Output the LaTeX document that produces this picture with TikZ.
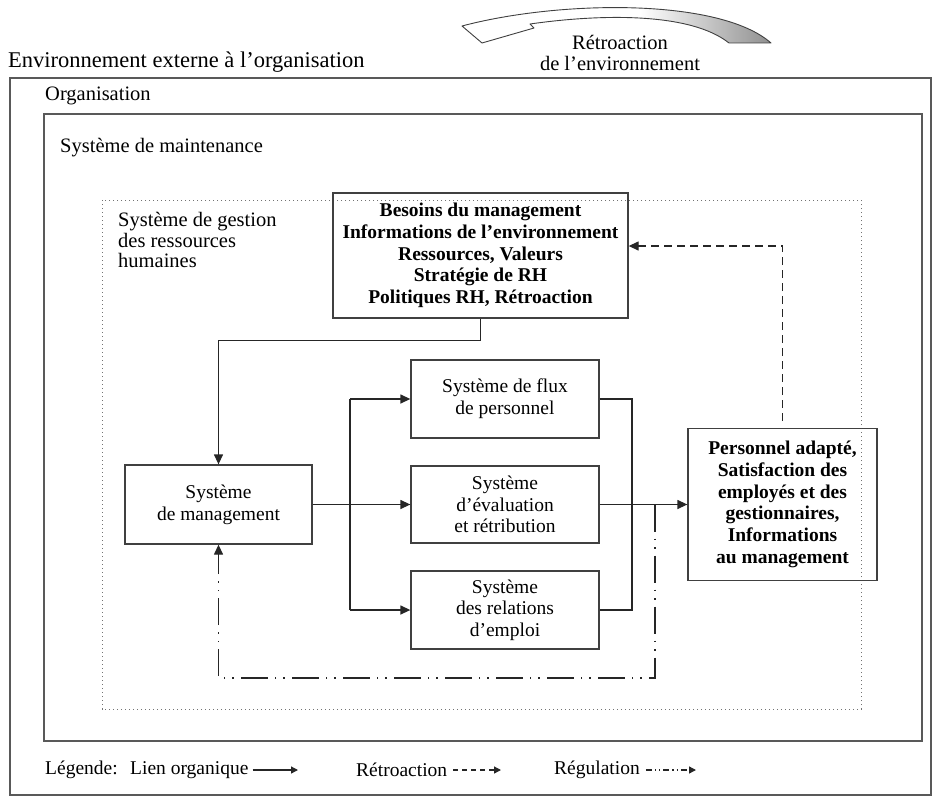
\documentclass[tikz,border=0pt]{standalone}
\usepackage{fontspec}
\setmainfont{Liberation Serif}
\usetikzlibrary{arrows.meta,calc}
\newcommand\fsbox{\fontsize{19.5}{21.7}\selectfont}
\newcommand\fsbig{\fontsize{20.5}{20.5}\selectfont}
\newcommand\fsenv{\fontsize{22.5}{22.5}\selectfont}
\tikzset{
  ln/.style={draw=black!85, line width=1.3pt},
  arr/.style={ln, -{Triangle[length=10pt,width=9pt]}},
  fb/.style={arr, dash pattern=on 8pt off 5pt},
  reg/.style={arr, dash pattern=on 27pt off 7pt on 1.5pt off 7pt on 1.5pt off 7pt},
  larr/.style={ln, -{Triangle[length=7pt,width=7pt]}},
  lfb/.style={larr, dash pattern=on 5pt off 4pt},
  lreg/.style={larr, dash pattern=on 6pt off 3pt on 1.2pt off 3pt on 1.2pt off 3pt},
  box/.style={draw=black!75, line width=1.3pt, align=center, inner sep=0pt, font=\fsbox},
  frame/.style={draw=black!65, line width=1.6pt},
  dotbox/.style={draw=black!55, line width=1pt, dash pattern=on 1.2pt off 2.8pt},
  lbl/.style={anchor=west, inner sep=0pt, font=\fsbig},
}
\begin{document}
\begin{tikzpicture}[x=1pt,y=-1pt]
\useasboundingbox (0,0) rectangle (933,797);
% frames
\draw[frame] (10,78) rectangle (931,795);
\draw[frame] (44,114) rectangle (922,741);
\draw[dotbox] (102,200) rectangle (861,709);
% top swoosh arrow
\begin{scope}
\path[fill=white] (462,26) .. controls (560,0) and (720,-2) .. (771,43) -- (729,43) .. controls (690,12) and (600,14) .. (530,24) -- (534,28) -- (482,43) -- cycle;
\clip (462,26) .. controls (560,0) and (720,-2) .. (771,43) -- (729,43) .. controls (690,12) and (600,14) .. (530,24) -- (534,28) -- (482,43) -- cycle;
\shade[left color=white, right color=black!45] (640,-5) rectangle (775,50);
\end{scope}
\draw[draw=black!75, line width=0.9pt, line join=round] (462,26) .. controls (560,0) and (720,-2) .. (771,43) -- (729,43) .. controls (690,12) and (600,14) .. (530,24) -- (534,28) -- (482,43) -- cycle;
% labels
\node[lbl, font=\fsenv] (env) at (8,62) {Environnement externe à l’organisation};
\node[font=\fsbig, align=center, inner sep=0pt] (rt) at (620,53) {Rétroaction\\de l’environnement};
\node[lbl] (org) at (45,96) {Organisation};
\node[lbl] (mt) at (60,148) {Système de maintenance};
\node[lbl, align=left] (gr) at (118,240) {Système de gestion\\des ressources\\humaines};
% boxes
\node[box, font=\fsbox\bfseries, minimum width=295pt, minimum height=125pt] (tb) at (480.5,255.5)
  {Besoins du management\\Informations de l’environnement\\Ressources, Valeurs\\Stratégie de RH\\Politiques RH, Rétroaction};
\node[box, minimum width=187pt, minimum height=79pt] (mg) at (218.5,504.5) {Système\\de management};
\node[box, minimum width=188pt, minimum height=78pt] (fx) at (505,399) {Système de flux\\de personnel};
\node[box, minimum width=188pt, minimum height=77pt] (ev) at (505,504.5) {Système\\d’évaluation\\et rétribution};
\node[box, minimum width=188pt, minimum height=78pt] (rl) at (505,610) {Système\\des relations\\d’emploi};
\node[box, font=\fsbox\bfseries, minimum width=189pt, minimum height=152pt] (rb) at (782.5,504.5)
  {Personnel adapté,\\Satisfaction des\\employés et des\\gestionnaires,\\Informations\\au management};
% coordinates
\coordinate (br) at (350,504.5);
\coordinate (col) at (632,504.5);
\coordinate (rg) at (655,504.5);
\coordinate (rgb) at (655,678);
\coordinate (fbs) at (782.5,421);
% connectors
\draw[arr] (tb.south) -- ++(0,22) -| (mg.north);
\draw[arr] (mg.east) -- (ev.west);
\draw[ln] (fx.west -| br) -- (rl.west -| br);
\draw[arr] (fx.west -| br) -- (fx.west);
\draw[arr] (rl.west -| br) -- (rl.west);
\draw[ln] (fx.east) -- (fx.east -| col) -- (rl.east -| col) -- (rl.east);
\draw[arr] (ev.east) -- (rb.west);
\draw[fb] (fbs) |- ([yshift=9.5pt]tb.east);
\draw[reg] (rg) -- (rgb) -| (mg.south);
% legend
\node[lbl, font=\fsbox] (lg) at (45,770) {Légende:};
\node[lbl, font=\fsbox] (l1) at (130,770) {Lien organique};
\node[lbl, font=\fsbox] (l2) at (356,770) {Rétroaction};
\node[lbl, font=\fsbox] (l3) at (554,770) {Régulation};
\coordinate (e1) at (298,770);
\coordinate (e2) at (501,770);
\coordinate (e3) at (696,770);
\draw[larr] ([xshift=4pt]l1.east) -- (e1);
\draw[lfb] ([xshift=6pt]l2.east) -- (e2);
\draw[lreg] ([xshift=6pt]l3.east) -- (e3);
\end{tikzpicture}
\end{document}
